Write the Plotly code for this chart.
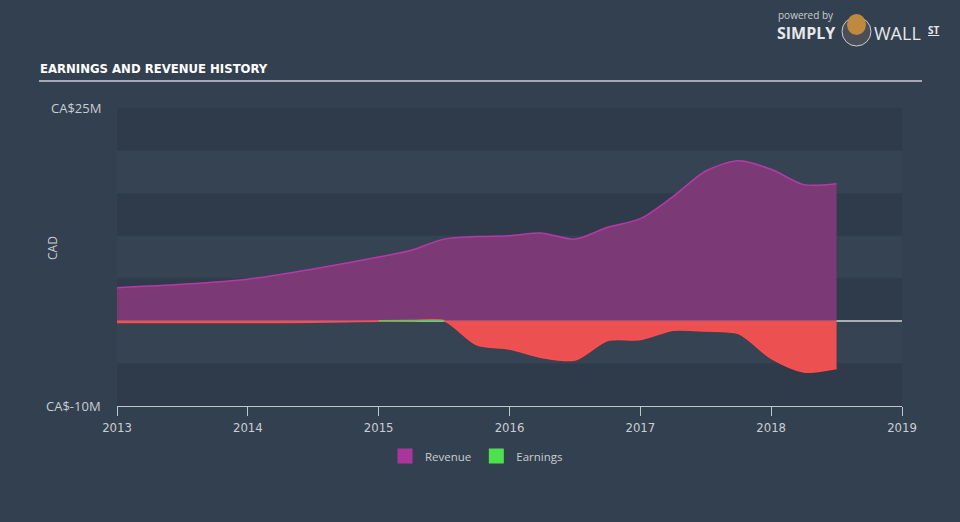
import plotly.graph_objects as go

# ---- data (CA$ millions) ----
years = [2013.0, 2013.5, 2014.0, 2014.5, 2015.0, 2015.25, 2015.5, 2015.75, 2016.0,
         2016.25, 2016.5, 2016.75, 2017.0, 2017.25, 2017.5, 2017.75, 2018.0, 2018.25, 2018.5]
revenue = [3.9, 4.3, 4.9, 6.1, 7.5, 8.3, 9.6, 9.9, 10.0,
           10.3, 9.6, 11.0, 12.0, 14.6, 17.6, 18.8, 17.8, 16.0, 16.1]
earnings = [-0.2, -0.2, -0.2, -0.15, -0.05, 0.05, 0.05, -2.8, -3.3,
            -4.3, -4.6, -2.3, -2.2, -1.1, -1.2, -1.5, -4.4, -6.0, -5.6]
x_ticks = [2013, 2014, 2015, 2016, 2017, 2018, 2019]
y_range = [-10, 25]
y_labels = ["CA$-10M", "CA$25M"]

W, H = 960, 522
L, R, T, B = 117, 902, 108, 406   # plot area in px

def px_x(x):
    return (x - L) / (R - L)

def px_y(y):
    return (B - y) / (B - T)

BG = "#33404f"
TXT = "#c9ced4"
COND = "DejaVu Sans Condensed, Liberation Sans Narrow, sans-serif"

neg = [min(e, 0) for e in earnings]
pos = []
for i, e in enumerate(earnings):
    near = e > 0 or (i + 1 < len(earnings) and earnings[i + 1] > 0)
    pos.append(max(e, 0) if near else None)

fig = go.Figure()

# background bands (every 5M, darker ones)
for lo in range(y_range[0], y_range[1], 5):
    idx = (lo - y_range[0]) // 5
    if idx % 2 == 0:
        fig.add_shape(type="rect", xref="paper", yref="y", x0=0, x1=1, y0=lo, y1=lo + 5,
                      fillcolor="#2f3b4a", line_width=0, layer="below")

fig.add_trace(go.Scatter(x=years, y=revenue, mode="lines", fill="tozeroy",
                         line=dict(color="#b43aa6", width=1.5, shape="spline", smoothing=0.8),
                         fillcolor="#7b3a75", showlegend=False, hoverinfo="skip"))
fig.add_trace(go.Scatter(x=years, y=neg, mode="lines", fill="tozeroy",
                         line=dict(color="#ff4d4d", width=1.5, shape="spline", smoothing=0.8),
                         fillcolor="#ec5050", showlegend=False, hoverinfo="skip"))
fig.add_trace(go.Scatter(x=years, y=pos, mode="lines", fill="tozeroy", connectgaps=False,
                         line=dict(color="#4ed04e", width=1.5, shape="spline", smoothing=0.8),
                         fillcolor="#4ed04e", showlegend=False, hoverinfo="skip"))

# legend entries
fig.add_trace(go.Scatter(x=[None], y=[None], mode="markers", name="Revenue",
                         marker=dict(symbol="square", size=15, color="#a9369b")))
fig.add_trace(go.Scatter(x=[None], y=[None], mode="markers", name="Earnings",
                         marker=dict(symbol="square", size=15, color="#4fe04f")))

fig.update_layout(
    width=W, height=H,
    margin=dict(l=L, r=W - R, t=T, b=H - B),
    paper_bgcolor=BG, plot_bgcolor="#354352",
    font=dict(family="Open Sans, sans-serif", color=TXT, size=12),
    xaxis=dict(range=[2013, 2019], tickvals=x_ticks, ticktext=[str(t) for t in x_ticks],
               showgrid=False, zeroline=False, showline=True, linecolor="#c0c6cd", linewidth=1,
               ticks="outside", ticklen=9, tickcolor="#c0c6cd",
               tickfont=dict(family=COND, size=13, color=TXT)),
    yaxis=dict(range=y_range, showgrid=False, showticklabels=False, ticks="",
               zeroline=True, zerolinecolor="#a9afb7", zerolinewidth=1.5, showline=False),
    legend=dict(orientation="h", x=px_x(385), xanchor="left", y=px_y(456), yanchor="middle",
                bgcolor="rgba(0,0,0,0)", font=dict(size=11.5, color=TXT), itemwidth=30,
                tracegroupgap=0),
    showlegend=True,
)

# y labels
for val, lab in zip(y_range, y_labels):
    fig.add_annotation(xref="paper", yref="y", x=px_x(103), y=val, text=lab, showarrow=False,
                       xanchor="right", yanchor="middle", font=dict(size=13, color=TXT))
fig.add_annotation(xref="paper", yref="paper", x=px_x(52), y=px_y(248), text="CAD", textangle=-90,
                   showarrow=False, xanchor="center", yanchor="middle", font=dict(size=12, color=TXT))

# title
fig.add_annotation(xref="paper", yref="paper", x=px_x(38), y=px_y(68),
                   text="<b>EARNINGS AND REVENUE HISTORY</b>", showarrow=False,
                   xanchor="left", yanchor="middle",
                   font=dict(family=COND, size=13, color="#ffffff"))
fig.add_shape(type="line", xref="paper", yref="paper", x0=px_x(39), x1=px_x(922),
              y0=px_y(81), y1=px_y(81), line=dict(color="#a3aab3", width=2))

# logo
fig.add_annotation(xref="paper", yref="paper", x=px_x(776), y=px_y(15), text="powered by",
                   showarrow=False, xanchor="left", yanchor="middle",
                   font=dict(size=10, color="#c9ced4"))
fig.add_annotation(xref="paper", yref="paper", x=px_x(775), y=px_y(33), text="<b>SIMPLY</b>",
                   showarrow=False, xanchor="left", yanchor="middle",
                   font=dict(size=16, color="#e6e8eb"))
fig.add_annotation(xref="paper", yref="paper", x=px_x(872), y=px_y(33), text="WALL",
                   showarrow=False, xanchor="left", yanchor="middle",
                   font=dict(size=18, color="#e6e8eb"))
fig.add_annotation(xref="paper", yref="paper", x=px_x(926), y=px_y(30), text="<b><u>ST</u></b>",
                   showarrow=False, xanchor="left", yanchor="middle",
                   font=dict(size=10, color="#e6e8eb"))
fig.add_shape(type="circle", xref="paper", yref="paper", x0=px_x(842), x1=px_x(871),
              y0=px_y(46), y1=px_y(17), fillcolor="#4a4f57", line=dict(color="#c9ced4", width=1))
fig.add_shape(type="circle", xref="paper", yref="paper", x0=px_x(847), x1=px_x(866),
              y0=px_y(35), y1=px_y(14), fillcolor="#c08a3e", line_width=0)

fig.write_html("out.html")
